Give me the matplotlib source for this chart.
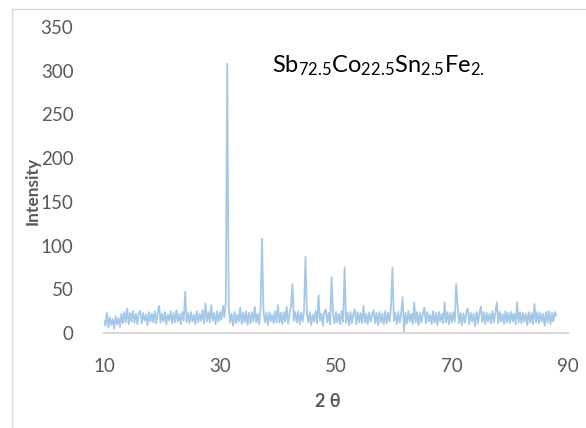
import numpy as np
import matplotlib
matplotlib.use('Agg')
import matplotlib.pyplot as plt
from matplotlib.lines import Line2D

# 2-theta grid (0.25 deg step, 10..88) and intensities
two_theta = np.arange(313) * 0.25 + 10.0

intensity = [
    14, 8, 23, 6, 18, 9, 16, 5, 19, 10, 17, 7, 22, 11, 24, 12, 28, 10, 23, 13,
    25, 12, 22, 10, 24, 25, 11, 23, 14, 21, 9, 24, 13, 22, 12, 25, 11, 23, 31, 12,
    22, 13, 24, 10, 21, 14, 25, 11, 23, 12, 26, 13, 22, 10, 24, 14, 47, 12, 23, 11,
    24, 13, 21, 10, 25, 12, 22, 14, 26, 11, 34, 13, 24, 12, 32, 14, 23, 10, 25, 13,
    24, 15, 31, 18, 35, 308, 30, 12, 22, 8, 24, 11, 21, 13, 29, 10, 23, 12, 25, 9,
    23, 11, 24, 13, 30, 12, 22, 10, 28, 108, 25, 12, 23, 9, 24, 13, 21, 11, 25, 12,
    32, 12, 23, 10, 24, 13, 30, 11, 22, 30, 56, 14, 24, 12, 25, 10, 23, 13, 26, 87,
    22, 12, 24, 9, 21, 13, 25, 11, 43, 14, 22, 8, 24, 27, 12, 23, 10, 64, 22, 11,
    24, 12, 22, 10, 25, 13, 75, 12, 23, 9, 24, 11, 22, 27, 10, 24, 12, 23, 11, 31,
    12, 22, 10, 24, 13, 21, 26, 11, 23, 9, 24, 12, 22, 10, 25, 11, 23, 13, 30, 75,
    14, 23, 10, 24, 12, 22, 41, 2, 23, 11, 25, 13, 22, 10, 35, 12, 24, 9, 23, 12,
    22, 29, 11, 24, 13, 21, 10, 25, 12, 23, 9, 24, 13, 22, 11, 35, 12, 24, 10, 23,
    12, 24, 13, 56, 30, 11, 23, 9, 22, 12, 24, 28, 10, 23, 13, 22, 8, 24, 11, 23,
    30, 12, 24, 10, 23, 13, 22, 11, 25, 12, 23, 35, 11, 24, 13, 22, 10, 25, 12, 23,
    11, 24, 13, 22, 10, 35, 12, 24, 11, 23, 13, 22, 9, 24, 12, 23, 10, 33, 12, 24,
    11, 23, 13, 22, 8, 24, 12, 25, 10, 23, 13, 24, 20,
]

x_ticks = [10, 30, 50, 70, 90]
y_ticks = [0, 50, 100, 150, 200, 250, 300, 350]

plt.rcParams['font.family'] = ['Lato', 'DejaVu Sans']
plt.rcParams['mathtext.fontset'] = 'custom'
plt.rcParams['mathtext.rm'] = 'Lato'

fig = plt.figure(figsize=(5.86, 4.28), dpi=100)
ax = fig.add_axes([0.1775, 0.222, 0.7915, 0.715])

ax.plot(two_theta, intensity, color='#5B9BD5', lw=1.3, alpha=0.55)

ax.set_xlim(10, 90)
ax.set_ylim(0, 350)
ax.set_xticks(x_ticks)
ax.set_yticks(y_ticks)
ax.tick_params(length=0, labelsize=13.5, labelcolor='#595959')
ax.tick_params(axis='y', pad=22)
ax.tick_params(axis='x', pad=18)

for s in ['top', 'right', 'left']:
    ax.spines[s].set_visible(False)
ax.spines['bottom'].set_color('#D9D9D9')
ax.spines['bottom'].set_linewidth(1.5)

fig.text(0.056, 0.553, 'Intensity', rotation=90, ha='center', va='center',
         fontsize=12.5, fontweight='bold', color='#595959')
fig.text(0.56, 0.061, '2 θ', ha='center', va='center',
         fontsize=13, fontweight='bold', color='#595959')
fig.text(0.464, 0.832, r'$\mathregular{Sb_{72.5}Co_{22.5}Sn_{2.5}Fe_{2.}}$',
         ha='left', va='baseline', fontsize=17, color='black')

# light grey chart frame
fig.add_artist(Line2D([0.0205, 0.0205], [0, 0.979], color='#D9D9D9', lw=1))
fig.add_artist(Line2D([0.0205, 1], [0.979, 0.979], color='#D9D9D9', lw=1))

fig.savefig('out.png', dpi=100)
